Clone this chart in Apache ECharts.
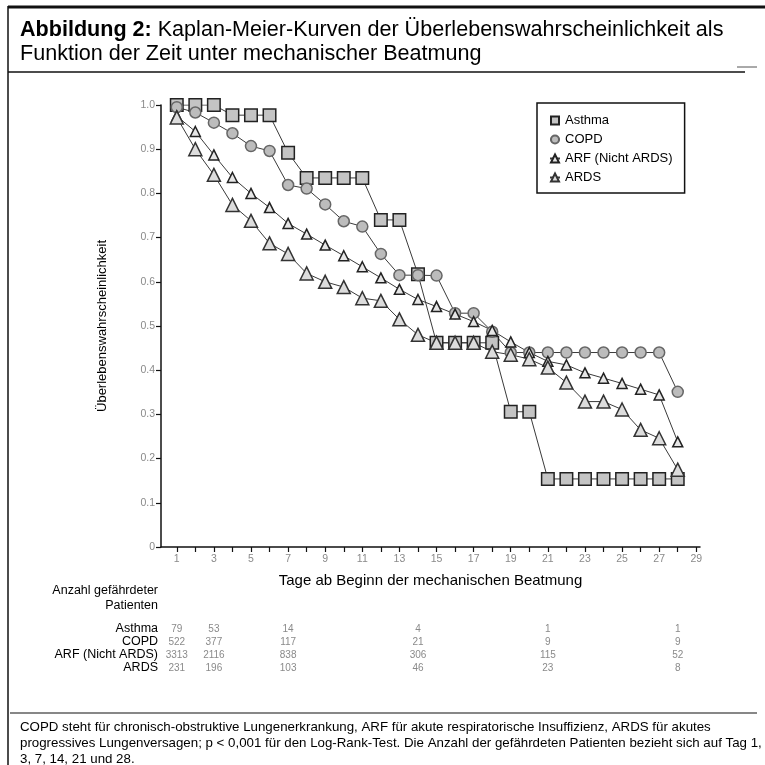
<!DOCTYPE html>
<html>
<head>
<meta charset="utf-8">
<script src="https://cdn.jsdelivr.net/npm/echarts@6/dist/echarts.min.js"></script>
<style>
html,body{margin:0;padding:0;background:#fff;}
#c{width:765px;height:765px;}
</style>
</head>
<body>
<div id="c"></div>
<script>
// ---- data ----
const days = [1,2,3,4,5,6,7,8,9,10,11,12,13,14,15,16,17,18,19,20,21,22,23,24,25,26,27,28];
const asthma = [1,1,1,0.977,0.977,0.977,0.892,0.835,0.835,0.835,0.835,0.74,0.74,0.617,0.462,0.462,0.462,0.462,0.306,0.306,0.154,0.154,0.154,0.154,0.154,0.154,0.154,0.154];
const copd = [0.995,0.983,0.96,0.936,0.907,0.896,0.819,0.811,0.775,0.737,0.725,0.663,0.615,0.615,0.614,0.529,0.529,0.487,0.44,0.44,0.44,0.44,0.44,0.44,0.44,0.44,0.44,0.351];
const arf = [0.975,0.94,0.887,0.836,0.80,0.768,0.732,0.708,0.683,0.659,0.634,0.609,0.583,0.56,0.544,0.527,0.51,0.49,0.464,0.44,0.42,0.412,0.394,0.382,0.37,0.357,0.344,0.238];
const ards = [0.972,0.90,0.842,0.774,0.738,0.687,0.663,0.619,0.60,0.588,0.563,0.557,0.515,0.48,0.462,0.462,0.462,0.442,0.435,0.425,0.406,0.372,0.329,0.329,0.311,0.265,0.246,0.175];
const seriesNames = ['Asthma','COPD','ARF (Nicht ARDS)','ARDS'];
const xTickValues = [1,2,3,4,5,6,7,8,9,10,11,12,13,14,15,16,17,18,19,20,21,22,23,24,25,26,27,28,29];
const xLabelValues = [1,3,5,7,9,11,13,15,17,19,21,23,25,27,29];
const riskDays = [1,3,7,14,21,28];
const riskAsthma = [79,53,14,4,1,1];
const riskCOPD = [522,377,117,21,9,9];
const riskARF = [3313,2116,838,306,115,52];
const riskARDS = [231,196,103,46,23,8];
const titleBold = 'Abbildung 2:';
const titleRest1 = ' Kaplan-Meier-Kurven der Überlebenswahrscheinlichkeit als';
const titleLine2 = 'Funktion der Zeit unter mechanischer Beatmung';
const footer = [
 'COPD steht für chronisch-obstruktive Lungenerkrankung, ARF für akute respiratorische Insuffizienz, ARDS für akutes',
 'progressives Lungenversagen; p < 0,001 für den Log-Rank-Test. Die Anzahl der gefährdeten Patienten bezieht sich auf Tag 1,',
 '3, 7, 14, 21 und 28.'
];
const xTitle = 'Tage ab Beginn der mechanischen Beatmung';
const yTitle = 'Überlebenswahrscheinlichkeit';
const rowLabels = ['Anzahl gefährdeter','Patienten','Asthma','COPD','ARF (Nicht ARDS)','ARDS'];

const FF = "'Liberation Sans',Arial,sans-serif";

// measure helper to fit text widths
const mc = document.createElement('canvas').getContext('2d');
function fit(text, family, weight, target){
  mc.font = weight + ' 100px ' + family;
  const w = mc.measureText(text).width;
  return 100 * target / w;
}

const chart = echarts.init(document.getElementById('c'), null, {renderer:'canvas'});
const pair = a => a.map((v,i)=>[days[i], v]);
const lineColor = '#3a3a3a';

function mk(name, data, symbol, size, fill, border){
  return {
    name, type:'line', data: pair(data), symbol, symbolSize: size,
    lineStyle:{color:lineColor, width:1},
    itemStyle:{color:fill, borderColor:border, borderWidth:1.5},
    emphasis:{disabled:true}, animation:false, z: 2
  };
}

const tSize = fit(titleBold + titleRest1, FF, 'normal', 692);
const fSize = fit(footer[1], FF, 'normal', 742);

const option = {
  animation:false,
  grid:{left:161, top:105, width:539, height:442, containLabel:false},
  xAxis:{
    type:'value', min:0.15, max:29.2,
    axisLine:{lineStyle:{color:'#111', width:1.5}},
    axisTick:{show:true, length:5, customValues:xTickValues, lineStyle:{color:'#111', width:1.2}},
    axisLabel:{customValues:xLabelValues, color:'#8a8a8a', fontSize:10.5, fontFamily:FF, margin:7},
    splitLine:{show:false},
    name:xTitle, nameLocation:'middle', nameGap:26,
    nameTextStyle:{color:'#000', fontSize:15, fontFamily:FF}
  },
  yAxis:{
    type:'value', min:0, max:1, interval:0.1,
    axisLine:{show:true, lineStyle:{color:'#111', width:1.5}},
    axisTick:{show:true, length:5, lineStyle:{color:'#111', width:1.2}},
    axisLabel:{color:'#8a8a8a', fontSize:10.5, fontFamily:FF, margin:6,
      formatter: v => v === 0 ? '0' : v.toFixed(1)},
    splitLine:{show:false},
    name:yTitle, nameLocation:'middle', nameGap:52, nameRotate:90,
    nameTextStyle:{color:'#000', fontSize:13, fontFamily:FF}
  },
  legend:{
    data:seriesNames, orient:'vertical', left:537, top:103,
    itemWidth:10, itemHeight:10, itemGap:6,
    padding:[11,12,9,12],
    borderColor:'#111', borderWidth:1.5,
    textStyle:{color:'#000', fontSize:13, fontFamily:FF},
    selectedMode:false
  },
  series:[
    mk('Asthma', asthma, 'rect', 12.5, '#c4c4c4', '#222'),
    mk('COPD', copd, 'circle', 11, '#bcbcbc', '#666'),
    mk('ARF (Nicht ARDS)', arf, 'triangle', 10, '#e6e6e6', '#222'),
    mk('ARDS', ards, 'triangle', 13, '#dcdcdc', '#333')
  ]
};
chart.setOption(option);

// build graphics (table, title, frame, footer)
const g = [];
g.push({type:'line', shape:{x1:8,y1:7,x2:765,y2:7}, style:{stroke:'#111', lineWidth:3}});
g.push({type:'line', shape:{x1:8,y1:6,x2:8,y2:765}, style:{stroke:'#111', lineWidth:1.5}});
g.push({type:'line', shape:{x1:8,y1:72,x2:745,y2:72}, style:{stroke:'#111', lineWidth:1.5}});
g.push({type:'line', shape:{x1:737,y1:67,x2:757,y2:67}, style:{stroke:'#555', lineWidth:1}});
g.push({type:'line', shape:{x1:10,y1:713,x2:757,y2:713}, style:{stroke:'#111', lineWidth:1.2}});
g.push({type:'text', left:20, top:19, style:{
  text:'{b|' + titleBold + '}' + titleRest1,
  fontSize:tSize, fontFamily:FF, fill:'#000',
  rich:{b:{fontWeight:'bold', fontSize:tSize, fontFamily:FF}}
}});
g.push({type:'text', left:20, top:43, style:{text:titleLine2, fontSize:tSize, fontFamily:FF, fill:'#000'}});
footer.forEach((t,i)=>{
  g.push({type:'text', left:20, top:721 + i*16, style:{text:t, fontSize:fSize, fontFamily:FF, fill:'#000'}});
});
const rowY = [591, 606, 629, 642, 655, 668];
rowLabels.forEach((t,i)=>{
  g.push({type:'text', x:158, y:rowY[i], style:{text:t, fontSize:12.5, fontFamily:FF, fill:'#000', align:'right', verticalAlign:'middle'}});
});
const riskRows = [riskAsthma, riskCOPD, riskARF, riskARDS];
riskRows.forEach((row, r)=>{
  row.forEach((v, j)=>{
    const px = chart.convertToPixel({xAxisIndex:0}, riskDays[j]);
    g.push({type:'text', x:px, y:rowY[r+2], style:{text:String(v), fontSize:10, fontFamily:FF, fill:'#8a8a8a', align:'center', verticalAlign:'middle'}});
  });
});
chart.setOption({graphic:g});
</script>
</body>
</html>
